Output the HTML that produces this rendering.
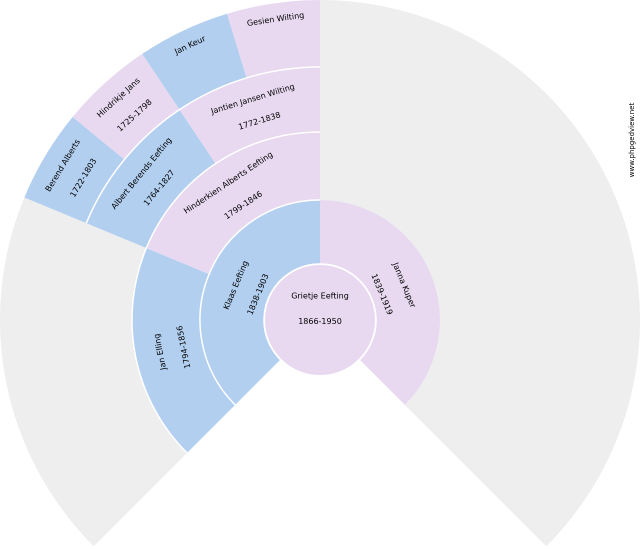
<!DOCTYPE html>
<html><head><meta charset="utf-8"><style>html,body{margin:0;padding:0;background:#fff}svg{display:block}</style></head>
<body>
<svg id="s" width="640" height="550" xmlns="http://www.w3.org/2000/svg" font-family="DejaVu Sans, Liberation Sans, sans-serif" font-size="8" fill="#000"></svg>
<script>
var cx=320,cy=320,s=document.getElementById('s'),NS='http://www.w3.org/2000/svg';
var B='#b2cff0',P='#e8d9f1',G='#eeeeee';
function pt(r,a){a=a*Math.PI/180;return [cx+r*Math.sin(a),cy-r*Math.cos(a)];}
function wedge(r1,r2,a1,a2,c){
 var p1=pt(r2,a1),p2=pt(r2,a2),p3=pt(r1,a2),p4=pt(r1,a1),l=(a2-a1)>180?1:0;
 var d='M'+p1+' A'+r2+','+r2+' 0 '+l+' 1 '+p2+' L'+p3+' A'+r1+','+r1+' 0 '+l+' 0 '+p4+' Z';
 var e=document.createElementNS(NS,'path');e.setAttribute('d',d);e.setAttribute('fill',c);s.appendChild(e);
}
function txt(r,a,t){
 var p=pt(r,a),e=document.createElementNS(NS,'text');
 e.setAttribute('x',p[0]);e.setAttribute('y',p[1]);e.setAttribute('text-anchor','middle');
 e.setAttribute('dominant-baseline','middle');e.setAttribute('transform','rotate('+a+' '+p[0]+' '+p[1]+')');
 e.textContent=t;s.appendChild(e);
}
function arc(r,a1,a2){
 var p1=pt(r,a1),p2=pt(r,a2),l=(a2-a1)>180?1:0,e=document.createElementNS(NS,'path');
 e.setAttribute('d','M'+p1+' A'+r+','+r+' 0 '+l+' 1 '+p2);e.setAttribute('stroke','#fff');e.setAttribute('stroke-width','1.5');e.setAttribute('fill','none');s.appendChild(e);
}
wedge(120,320,0,135,G);
wedge(187,320,-135,-67.5,G);
wedge(56,120,-135,0,B);wedge(56,120,0,135,P);
wedge(120,188,-135,-67.5,B);wedge(120,188,-67.5,0,P);
wedge(188,253,-67.5,-33.75,B);wedge(188,253,-33.75,0,P);
wedge(253,320,-67.5,-50.625,B);wedge(253,320,-50.625,-33.75,P);
wedge(253,320,-33.75,-16.875,B);wedge(253,320,-16.875,0,P);
arc(120,-135,0);arc(188,-135,0);arc(253,-67.5,0);arc(56,-180,179.9);
var c=document.createElementNS(NS,'circle');c.setAttribute('cx',cx);c.setAttribute('cy',cy);c.setAttribute('r',55);c.setAttribute('fill',P);s.appendChild(c);
txt(24,0,'Grietje Eefting');
var t=document.createElementNS(NS,'text');t.setAttribute('x',320);t.setAttribute('y',324);t.setAttribute('text-anchor','middle');t.textContent='1866-1950';s.appendChild(t);
txt(91,-67.5,'Klaas Eefting');txt(67,-67.5,'1838-1903');
txt(91,67.5,'Janna Kuper');txt(67,67.5,'1839-1919');
txt(163,-101.25,'Jan Elling');txt(139,-101.25,'1794-1856');
txt(165,-33.75,'Hinderkien Alberts Eefting');txt(138,-33.75,'1799-1846');
txt(231,-50.6,'Albert Berends Eefting');txt(208,-50.6,'1764-1827');
txt(231,-16.9,'Jantien Jansen Wilting');txt(208,-16.9,'1772-1838');
txt(300,-59,'Berend Alberts');txt(276,-59,'1722-1803');
txt(300,-42.2,'Hindrikje Jans');txt(276,-42.2,'1725-1798');
txt(304,-25.3,'Jan Keur');
txt(304,-8.4,'Gesien Wilting');
var w=document.createElementNS(NS,'text');w.setAttribute('x',634);w.setAttribute('y',140);w.setAttribute('font-size','7');w.setAttribute('text-anchor','middle');w.setAttribute('transform','rotate(-90 634 140)');w.textContent='www.phpgedview.net';s.appendChild(w);
</script>
</body></html>
